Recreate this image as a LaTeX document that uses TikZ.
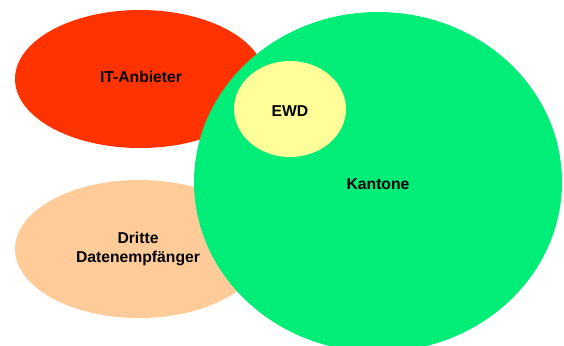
\documentclass[tikz,border=0pt]{standalone}
\usepackage{fontspec}
\setmainfont{Liberation Sans}
\usetikzlibrary{shapes.geometric}
\definecolor{itred}{HTML}{FF3300}
\definecolor{peach}{HTML}{FFCC99}
\definecolor{kgreen}{HTML}{00EE77}
\definecolor{ewdyellow}{HTML}{FFFF99}
\begin{document}
\begin{tikzpicture}[x=1pt,y=-1pt,
  blob/.style={ellipse,draw=none,inner sep=0pt,minimum width=2*#1},
  lbl/.style={font=\fontsize{15.7}{18.5}\selectfont\bfseries,align=center,text=black}]
\useasboundingbox (0,0) rectangle (564,345);
\begin{scope}
\clip (0,0) rectangle (564,345);
\fill[itred] (140,79) ellipse [x radius=125, y radius=69];
\fill[peach] (139,249) ellipse [x radius=124, y radius=69];
\fill[kgreen] (378,182) ellipse [x radius=184, y radius=170];
\fill[ewdyellow] (290,109) ellipse [x radius=56, y radius=48];
\end{scope}
\node[lbl] (it) at (141,77) {IT-Anbieter};
\node[lbl] (dr) at (138,249) {Dritte\\Datenempfänger};
\node[lbl] (ka) at (378,184) {Kantone};
\node[lbl] (ewd) at (290,111) {EWD};
\end{tikzpicture}
\end{document}
